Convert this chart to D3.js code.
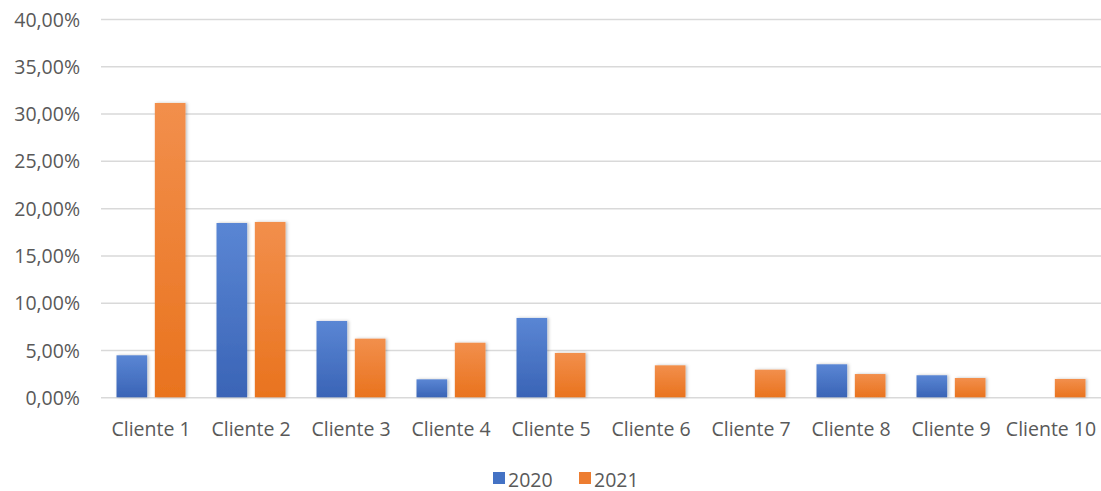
<!DOCTYPE html>
<html>
<head>
<meta charset="utf-8">
<script src="https://cdn.jsdelivr.net/npm/d3@7"></script>
<style>
  html, body { margin: 0; padding: 0; background: #fff; }
  svg text { font-family: "Open Sans", "Noto Sans", sans-serif; fill: #595959; }
</style>
</head>
<body>
<svg id="chart" width="1101" height="491"></svg>
<script>
// Share of each client, per year (percent)
const categories = ["Cliente 1", "Cliente 2", "Cliente 3", "Cliente 4", "Cliente 5",
                    "Cliente 6", "Cliente 7", "Cliente 8", "Cliente 9", "Cliente 10"];
const series = ["2020", "2021"];
const values2020 = [4.44, 18.43, 8.07, 1.90, 8.39, 0, 0, 3.49, 2.33, 0];
const values2021 = [31.12, 18.54, 6.20, 5.77, 4.69, 3.38, 2.92, 2.46, 2.04, 1.94];
const yTicks = [0, 5, 10, 15, 20, 25, 30, 35, 40];

const colors = { "2020": "#4472C4", "2021": "#ED7D31" };
const svg = d3.select("#chart");
const margin = { top: 19, right: 0, bottom: 94, left: 101 };
const width = 1101, height = 491;
const fontSize = 19.5;

const x = d3.scaleBand().domain(categories).range([margin.left, width - margin.right]).paddingInner(0).paddingOuter(0);
const xSub = d3.scaleBand().domain(series).range([15.5, x.bandwidth() - 15.5]).paddingInner(0.2);
const y = d3.scaleLinear().domain([0, 40]).range([height - margin.bottom + 0.3, margin.top]);

// gradients and soft shadow for bars
const defs = svg.append("defs");
const grads = {
  "2020": ["#5a86d4", "#3a64b6"],
  "2021": ["#f28f4c", "#e9731e"]
};
series.forEach(s => {
  const g = defs.append("linearGradient").attr("id", "g" + s).attr("x1", 0).attr("y1", 0).attr("x2", 0).attr("y2", 1);
  g.append("stop").attr("offset", "0%").attr("stop-color", grads[s][0]);
  g.append("stop").attr("offset", "100%").attr("stop-color", grads[s][1]);
});
const f = defs.append("filter").attr("id", "shadow").attr("x", "-20%").attr("y", "-20%").attr("width", "150%").attr("height", "150%");
f.append("feDropShadow").attr("dx", 1.5).attr("dy", 0).attr("stdDeviation", 1.5).attr("flood-color", "#000").attr("flood-opacity", 0.25);

// horizontal gridlines
const yAxis = d3.axisLeft(y).tickValues(yTicks).tickSize(-(width - margin.left - margin.right))
  .tickFormat(d => d3.format(".2f")(d).replace(".", ",") + "%").tickPadding(21);
const gy = svg.append("g").attr("transform", `translate(${margin.left},0)`).call(yAxis);
gy.select(".domain").remove();
gy.selectAll(".tick line").attr("stroke", "#d9d9d9").attr("stroke-width", 1.5);
gy.selectAll(".tick text").attr("font-size", fontSize).attr("dy", "0.36em");

// bars
const data = categories.map((c, i) => ({ c, vals: [{ s: "2020", v: values2020[i] }, { s: "2021", v: values2021[i] }] }));
const groups = svg.append("g").selectAll("g").data(data).join("g")
  .attr("transform", d => `translate(${x(d.c)},0)`);
groups.selectAll("rect").data(d => d.vals.filter(e => e.v > 0)).join("rect")
  .attr("x", d => xSub(d.s))
  .attr("width", xSub.bandwidth())
  .attr("y", d => y(d.v))
  .attr("height", d => y(0) - y(d.v))
  .attr("fill", d => `url(#g${d.s})`)
  .attr("filter", "url(#shadow)");

// category axis
const xAxis = d3.axisBottom(x).tickSize(0).tickPadding(25);
const gx = svg.append("g").attr("transform", `translate(0,${y(0)})`).call(xAxis);
gx.select(".domain").remove();
gx.selectAll(".tick text").attr("font-size", fontSize);

// legend
const legend = svg.append("g").attr("transform", "translate(493,472)");
const lx = [0, 86];
series.forEach((s, i) => {
  const g = legend.append("g").attr("transform", `translate(${lx[i]},0)`);
  g.append("rect").attr("width", 12).attr("height", 12).attr("fill", colors[s]);
  g.append("text").attr("x", 15).attr("y", 14.5).attr("font-size", fontSize).text(s);
});
</script>
</body>
</html>
